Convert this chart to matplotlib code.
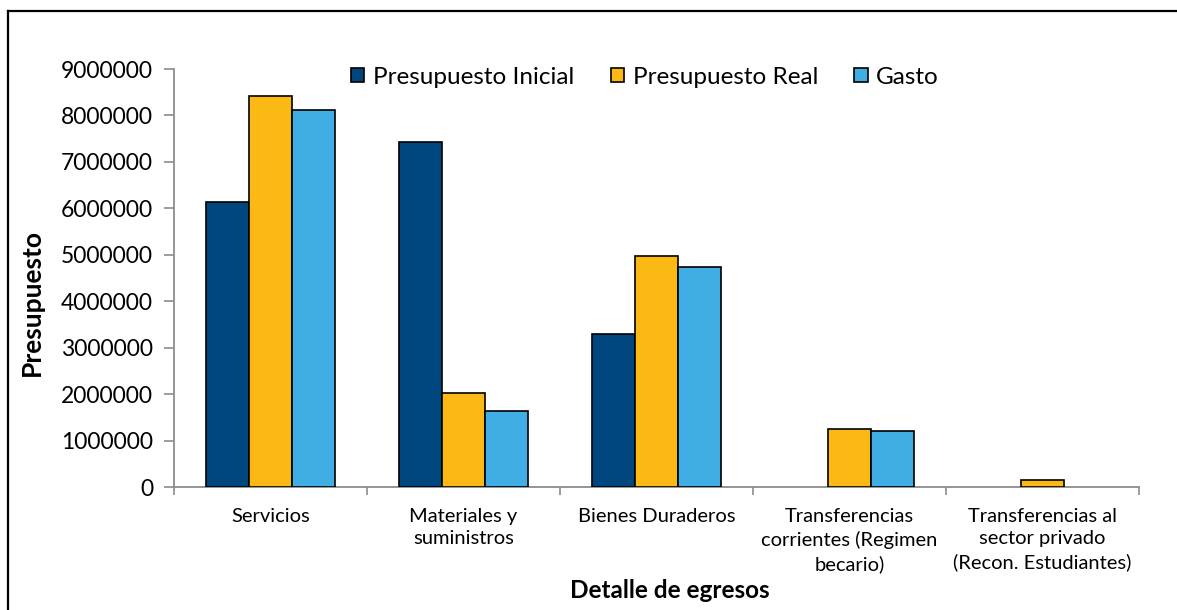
import matplotlib
matplotlib.use("Agg")
import matplotlib.pyplot as plt
from matplotlib.ticker import FuncFormatter, FixedLocator
from matplotlib.lines import Line2D
import numpy as np

categories = ["Servicios", "Materiales y\nsuministros", "Bienes Duraderos",
              "Transferencias\ncorrientes (Regimen\nbecario)",
              "Transferencias al\nsector privado\n(Recon. Estudiantes)"]
series_names = ["Presupuesto Inicial", "Presupuesto Real", "Gasto"]
presupuesto_inicial = [6130000, 7430000, 3290000, 0, 0]
presupuesto_real = [8420000, 2030000, 4980000, 1240000, 160000]
gasto = [8110000, 1630000, 4730000, 1200000, 0]
colors = ["#00467E", "#FCB813", "#40AEE5"]
y_ticks = [0, 1000000, 2000000, 3000000, 4000000, 5000000, 6000000, 7000000, 8000000, 9000000]

plt.rcParams['font.family'] = ['Lato', 'DejaVu Sans']

W, H = 1177, 610
fig = plt.figure(figsize=(W / 100, H / 100), dpi=100)
ax = fig.add_axes([174 / W, 1 - 487 / H, (1139 - 174) / W, (487 - 69) / H])

x = np.arange(len(categories))
bw = 1 / 4.5
data = [presupuesto_inicial, presupuesto_real, gasto]
for i, (vals, c, name) in enumerate(zip(data, colors, series_names)):
    v = np.array(vals, dtype=float)
    v[v == 0] = np.nan
    ax.bar(x + (i - 1) * bw, v, width=bw, color=c, edgecolor="black",
           linewidth=1.2, label=name, zorder=3)

ax.set_xlim(-0.5, len(categories) - 0.5)
ax.set_ylim(0, 9000000)
ax.yaxis.set_major_locator(FixedLocator(y_ticks))
ax.yaxis.set_major_formatter(FuncFormatter(lambda v, p: f"{int(v)}"))

ax.set_xticks(x)
ax.set_xticklabels(categories, fontsize=14.5, linespacing=1.4, va="top")
ax.set_xticks(np.arange(len(categories) + 1) - 0.5, minor=True)
ax.tick_params(axis="x", which="major", length=0, pad=15)
ax.tick_params(axis="x", which="minor", length=6, width=1.2, color="#8C8C8C", direction="out")
ax.tick_params(axis="y", which="major", length=7, width=1.2, color="#8C8C8C",
               direction="out", labelsize=16.5, pad=8)

for s in ["top", "right"]:
    ax.spines[s].set_visible(False)
for s in ["left", "bottom"]:
    ax.spines[s].set_color("#8C8C8C")
    ax.spines[s].set_linewidth(1.3)

ax.set_ylabel("Presupuesto", fontsize=19, fontweight="bold", va="center")
ax.yaxis.set_label_coords((32 - 174) / 965, (487 - 302) / 418)
ax.set_xlabel("Detalle de egresos", fontsize=17.5, fontweight="bold", va="center")
ax.xaxis.set_label_coords((670 - 174) / 965, (487 - 590) / 418)

leg = ax.legend(loc="center", bbox_to_anchor=(645 / W, 1 - 77 / H),
                bbox_transform=fig.transFigure, ncol=3, frameon=False,
                fontsize=17.5, handlelength=0.55, handleheight=0.55,
                handletextpad=0.35, columnspacing=1.5, borderaxespad=0)
for h in leg.legend_handles:
    h.set_linewidth(1.2)

fig.add_artist(Line2D([7.5 / W, 7.5 / W], [0, 1 - 10.5 / H], transform=fig.transFigure,
                      color="black", linewidth=1.6))
fig.add_artist(Line2D([7.5 / W, 1.0], [1 - 10.5 / H, 1 - 10.5 / H], transform=fig.transFigure,
                      color="black", linewidth=1.6))

fig.savefig("out.png", dpi=100)
